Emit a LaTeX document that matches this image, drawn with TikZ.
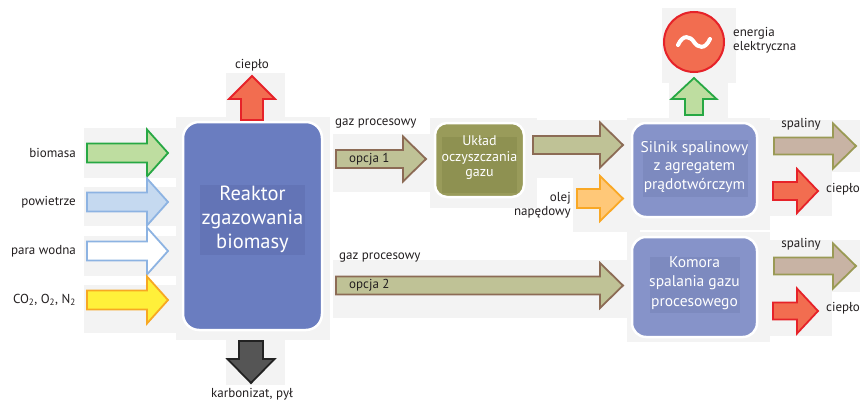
\documentclass[tikz,border=0pt]{standalone}
\usepackage{fontspec}
\setmainfont{PT Sans}
\definecolor{txt}{HTML}{231F20}
\definecolor{bgg}{HTML}{F3F3F3}
\definecolor{reafill}{HTML}{6A7DC0}
\definecolor{reain}{HTML}{6374B6}
\definecolor{boxfill}{HTML}{8693C9}
\definecolor{boxin}{HTML}{7D8ABF}
\definecolor{ukfill}{HTML}{999B5A}
\definecolor{ukin}{HTML}{8E9151}
\definecolor{grfill}{HTML}{BEDDA0}
\definecolor{grline}{HTML}{27A844}
\definecolor{blfill}{HTML}{C5D9F0}
\definecolor{blline}{HTML}{8DB3E2}
\definecolor{yefill}{HTML}{FFF03A}
\definecolor{yeline}{HTML}{F7A823}
\definecolor{gafill}{HTML}{BFC296}
\definecolor{galine}{HTML}{8C6B55}
\definecolor{orfill}{HTML}{FFC878}
\definecolor{orline}{HTML}{F9A825}
\definecolor{redfill}{HTML}{F26D50}
\definecolor{redline}{HTML}{E62229}
\definecolor{spfill}{HTML}{C8B3A4}
\definecolor{spline}{HTML}{9A9A55}
\definecolor{dkfill}{HTML}{555555}
\definecolor{dkline}{HTML}{222222}
\newcommand\harrow[7]{%
  \draw[#1] (#2,{#5-#6}) -- (#3,{#5-#6}) -- (#3,{#5-#7}) -- (#4,#5) -- (#3,{#5+#7}) -- (#3,{#5+#6}) -- (#2,{#5+#6}) -- cycle;}
\newcommand\varrow[7]{%
  \draw[#1] ({#2-#6},#3) -- ({#2-#6},#4) -- ({#2-#7},#4) -- (#2,#5) -- ({#2+#7},#4) -- ({#2+#6},#4) -- ({#2+#6},#3) -- cycle;}
\begin{document}
\begin{tikzpicture}[x=1pt,y=-1pt,
  lbl/.style={text=txt,font=\fontsize{13}{14.5}\selectfont,inner sep=0pt},
  bg/.style={fill=bgg,draw=none},
  blk/.style={line width=1.8pt,line join=miter,miter limit=10},
  bigbox/.style={draw=white,line width=2.5pt,rounded corners=16pt},
  intext/.style={text=white,align=center,inner sep=0pt}]
\useasboundingbox[fill=white] (0,0) rectangle (862,404);
% light backgrounds
\fill[bgg] (84,128) rectangle (180,178);
\fill[bgg] (84,187) rectangle (180,226);
\fill[bgg] (84,236) rectangle (180,276);
\fill[bgg] (84,285) rectangle (180,333);
\fill[bgg] (176,117) rectangle (330,340);
\fill[bgg] (226,73) rectangle (285,121);
\fill[bgg] (226,340) rectangle (285,385);
\fill[bgg] (333,134) rectangle (430,192);
\fill[bgg] (430,118) rectangle (537,208);
\fill[bgg] (530,120) rectangle (640,178);
\fill[bgg] (573,172) rectangle (640,232);
\fill[bgg] (333,260) rectangle (640,318);
\fill[bgg] (627,118) rectangle (770,230);
\fill[bgg] (627,232) rectangle (770,342);
\fill[bgg] (662,8) rectangle (736,83);
\fill[bgg] (669,75) rectangle (728,118);
\fill[bgg] (770,120) rectangle (860,172);
\fill[bgg] (770,166) rectangle (832,216);
\fill[bgg] (770,240) rectangle (860,292);
\fill[bgg] (770,286) rectangle (832,336);
% boxes
\node[bigbox,fill=reafill,minimum width=139pt,minimum height=208pt] (reactor) at (252.5,226) {};
\fill[reain] (200,185) rectangle (305,255);
\node[intext,font=\fontsize{20.5}{24}\selectfont] (reactortxt) at (252.5,219) {Reaktor\\zgazowania\\biomasy};
\node[bigbox,rounded corners=12pt,fill=ukfill,minimum width=89pt,minimum height=74pt] (uklad) at (479.5,160) {};
\fill[ukin] (442,137) rectangle (517,193);
\node[intext,font=\fontsize{14}{15.5}\selectfont] (ukladtxt) at (479.5,158) {Układ\\oczyszczania\\gazu};
\node[bigbox,rounded corners=14pt,fill=boxfill,minimum width=125pt,minimum height=94pt] (silnik) at (694.5,170) {};
\fill[boxin] (643,140) rectangle (748,197);
\node[intext,font=\fontsize{15.5}{18.5}\selectfont] (silniktxt) at (694.5,167) {Silnik spalinowy\\z agregatem\\prądotwórczym};
\node[bigbox,rounded corners=14pt,fill=boxfill,minimum width=125pt,minimum height=100pt] (komora) at (694.5,287) {};
\fill[boxin] (650,257) rectangle (740,313);
\node[intext,font=\fontsize{15.5}{19.5}\selectfont] (komoratxt) at (694.5,283) {Komora\\spalania gazu\\procesowego};
% generator
\node[circle,draw=redline,line width=2pt,fill=redfill,minimum size=60pt,inner sep=0pt] (gen) at (694,42) {};
\draw[white,line width=4pt,line cap=round] (678,45) .. controls (683,34) and (690,36) .. (694,42) .. controls (698,48) and (705,50) .. (710,39);
% arrows
\harrow{blk,draw=grline,fill=grfill}{87}{147}{168}{153}{9.5}{23.5}
\harrow{blk,draw=blline,fill=blfill}{87}{147}{168}{202}{9.5}{23.5}
\harrow{blk,draw=blline,fill=white}{87}{147}{168}{251}{9.5}{23.5}
\harrow{blk,draw=yeline,fill=yefill}{87}{147}{168}{300}{9.5}{23.5}
\varrow{blk,draw=redline,fill=redfill}{252}{120}{99}{76}{11}{23}
\varrow{blk,draw=dkline,fill=dkfill}{251}{341}{359}{383}{12}{23.5}
\harrow{blk,draw=galine,fill=gafill}{336}{403}{426}{159}{9}{22.5}
\harrow{blk,draw=galine,fill=gafill}{533}{600}{623}{145}{9}{22.5}
\harrow{blk,draw=orline,fill=orfill}{577}{600}{623}{198.5}{9.5}{22.5}
\harrow{blk,draw=galine,fill=gafill}{336}{600}{623}{285.5}{9}{22.5}
\varrow{blk,draw=grline,fill=grfill}{694}{115}{99}{78}{9}{22.5}
\harrow{blk,draw=spline,fill=spfill}{774}{833}{856}{146}{8.5}{22.5}
\harrow{blk,draw=redline,fill=redfill}{773}{797}{818}{191}{9}{22}
\harrow{blk,draw=spline,fill=spfill}{774}{833}{856}{266}{8.5}{22.5}
\harrow{blk,draw=redline,fill=redfill}{773}{797}{818}{311}{8.5}{22.5}
% labels
\node[lbl,anchor=east] (lbio) at (76,153) {biomasa};
\node[lbl,anchor=east] (lpow) at (76,202) {powietrze};
\node[lbl,anchor=east] (lpara) at (76,251) {para wodna};
\node[lbl,anchor=east] (lco) at (76,300) {CO\textsubscript{2}, O\textsubscript{2}, N\textsubscript{2}};
\node[lbl] (lciep) at (252,65) {ciepło};
\node[lbl] (lkarb) at (252,394) {karbonizat, pył};
\node[lbl,anchor=west] (lgaz1) at (335,124) {gaz procesowy};
\node[lbl,anchor=west] (lop1) at (349,159) {opcja 1};
\node[lbl,anchor=west] (lgaz2) at (339,258) {gaz procesowy};
\node[lbl,anchor=west] (lop2) at (349,285) {opcja 2};
\node[lbl,anchor=east,align=right] (lolej) at (571,205) {olej\\napędowy};
\node[lbl,anchor=west,align=left] (lener) at (733,40) {energia\\elektryczna};
\node[lbl] (lsp1) at (801,124) {spaliny};
\node[lbl,anchor=west] (lc1) at (826,189) {ciepło};
\node[lbl] (lsp2) at (801,244) {spaliny};
\node[lbl,anchor=west] (lc2) at (826,308) {ciepło};
\end{tikzpicture}
\end{document}
